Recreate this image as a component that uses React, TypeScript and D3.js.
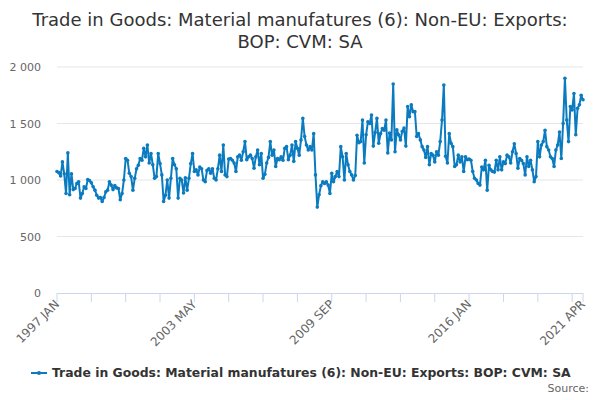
import React from "react";
import * as d3 from "d3";

// monthly values, Jan 1997 .. Apr 2021 (£m, CVM, SA)
const values: number[] = [
  // 1997
  1075, 1065, 1035, 1160, 1055, 880, 1240, 870, 1055, 915, 925, 970,
  // 1998
  985, 840, 880, 940, 925, 1005, 995, 975, 940, 910, 865, 840,
  // 1999
  845, 810, 845, 895, 910, 985, 955, 915, 950, 930, 925, 825,
  // 2000
  880, 1000, 1190, 1175, 1060, 1030, 910, 1015, 1100, 1130, 1190, 1175,
  // 2001
  1280, 1205, 1310, 1150, 1235, 1135, 1015, 1030, 1235, 1145, 1045, 810,
  // 2002
  865, 1000, 840, 1015, 1190, 1135, 1100, 840, 1015, 1000, 885, 1020,
  // 2003
  910, 1015, 1145, 1235, 1075, 1090, 1045, 1115, 1100, 1000, 985, 1085,
  // 2004
  1100, 1060, 1100, 1015, 1000, 1100, 1220, 1075, 1310, 1045, 1030, 1185,
  // 2005
  1190, 1175, 1150, 1075, 1205, 1220, 1175, 1250, 1340, 1180, 1205, 1220,
  // 2006
  1190, 1105, 1205, 1265, 1135, 1235, 1015, 1050, 1150, 1200, 1340, 1220,
  // 2007
  1265, 1120, 1190, 1180, 1205, 1175, 1280, 1295, 1180, 1220, 1310, 1165,
  // 2008
  1340, 1280, 1220, 1355, 1545, 1385, 1310, 1265, 1295, 1265, 1410, 1045,
  // 2009
  760, 870, 950, 985, 970, 985, 955, 880, 1060, 985, 1030, 1075,
  // 2010
  1030, 1295, 1205, 1000, 1235, 1135, 1075, 1045, 1000, 1040, 1395, 1330,
  // 2011
  1340, 1530, 1150, 1400, 1515, 1500, 1575, 1300, 1420, 1545, 1325, 1410,
  // 2012
  1455, 1440, 1530, 1240, 1415, 1355, 1850, 1250, 1445, 1400, 1355, 1430,
  // 2013
  1460, 1300, 1650, 1560, 1665, 1605, 1605, 1385, 1410, 1355, 1295, 1265,
  // 2014
  1200, 1295, 1135, 1235, 1220, 1160, 1250, 1220, 1340, 1530, 1840, 1210,
  // 2015
  1150, 1410, 1325, 1295, 1120, 1135, 1220, 1160, 1205, 1075, 1205, 1180,
  // 2016
  1185, 1175, 1075, 1015, 1000, 970, 955, 1115, 1090, 1175, 910, 1130,
  // 2017
  1090, 1075, 1070, 1175, 1090, 1205, 1090, 1160, 1145, 1220, 1205, 1150,
  // 2018
  1250, 1320, 1235, 1105, 1190, 1175, 1145, 1045, 1205, 1120, 1175, 1090,
  // 2019
  985, 1030, 1340, 1205, 1310, 1340, 1440, 1295, 1265, 1205, 1190, 1120,
  // 2020
  1265, 1310, 1425, 1190, 1500, 1900, 1530, 1340, 1650, 1620, 1765, 1400,
  // 2021
  1635, 1665, 1750, 1710,
];

const startYear = 1997;
const monthNames = ["JAN", "FEB", "MAR", "APR", "MAY", "JUN", "JUL", "AUG", "SEP", "OCT", "NOV", "DEC"];
const yTicks = [0, 500, 1000, 1500, 2000];
const tickStep = 19; // months between x ticks
const labelEvery = 4; // every 4th tick is labelled

const title = ["Trade in Goods: Material manufatures (6): Non-EU: Exports:", "BOP: CVM: SA"];
const seriesName = "Trade in Goods: Material manufatures (6): Non-EU: Exports: BOP: CVM: SA";

const W = 600;
const H = 400;
const FONT = '"DejaVu Sans", Verdana, sans-serif';
const BLUE = "#0b7bc0";

const monthLabel = (i: number) =>
  `${startYear + Math.floor(i / 12)} ${monthNames[i % 12]}`;

export default function App() {
  const n = values.length;
  const x = d3.scaleLinear().domain([0, n - 1]).range([57, 583]);
  const y = d3.scaleLinear().domain([0, 2000]).range([293, 67]);

  const line = d3
    .line<number>()
    .x((_, i) => x(i))
    .y((d) => y(d));

  const ticks = d3.range(0, n, tickStep);
  if (ticks[ticks.length - 1] !== n - 1) ticks.push(n - 1);
  const labelled = ticks.filter((t, k) => k % labelEvery === 0 || t === n - 1);

  const fmt = (v: number) => d3.format(",")(v).replace(/,/g, " ");

  return (
    <div style={{ position: "absolute", left: 0, top: 0 }}>
      <svg width={W} height={H} style={{ fontFamily: FONT, display: "block" }}>
        <rect width={W} height={H} fill="#fff" />

        {/* title */}
        <text x={W / 2} y={26} textAnchor="middle" fontSize={18} fill="#333">
          {title[0]}
        </text>
        <text x={W / 2} y={48} textAnchor="middle" fontSize={18} fill="#333">
          {title[1]}
        </text>

        {/* grid + y labels */}
        {yTicks.map((t) => (
          <g key={t}>
            {t > 0 && (
              <line x1={57} x2={583} y1={y(t)} y2={y(t)} stroke="#e6e6e6" strokeWidth={1} />
            )}
            <text x={41} y={y(t) + 4} textAnchor="end" fontSize={11} fill="#666">
              {fmt(t)}
            </text>
          </g>
        ))}

        {/* x axis */}
        <line x1={57} x2={583} y1={293.5} y2={293.5} stroke="#ccd6eb" />
        {ticks.map((t) => (
          <line key={t} x1={x(t)} x2={x(t)} y1={293} y2={302} stroke="#ccd6eb" />
        ))}
        {labelled.map((t) => (
          <text
            key={t}
            transform={`translate(${x(t) + 3},${305}) rotate(-45)`}
            textAnchor="end"
            fontSize={12}
            fill="#666"
          >
            {monthLabel(t)}
          </text>
        ))}

        {/* series */}
        <path d={line(values) ?? ""} fill="none" stroke={BLUE} strokeWidth={2} strokeLinejoin="round" />
        {values.map((v, i) => (
          <circle key={i} cx={x(i)} cy={y(v)} r={1.8} fill={BLUE} />
        ))}

        {/* legend */}
        <line x1={31} x2={47} y1={373} y2={373} stroke={BLUE} strokeWidth={2} />
        <circle cx={39} cy={373} r={2} fill={BLUE} />
        <text x={52} y={377} fontSize={12.4} fontWeight="bold" fill="#333">
          {seriesName}
        </text>

        <text x={589} y={392} textAnchor="end" fontSize={11} fill="#666">
          Source:
        </text>
      </svg>
    </div>
  );
}
